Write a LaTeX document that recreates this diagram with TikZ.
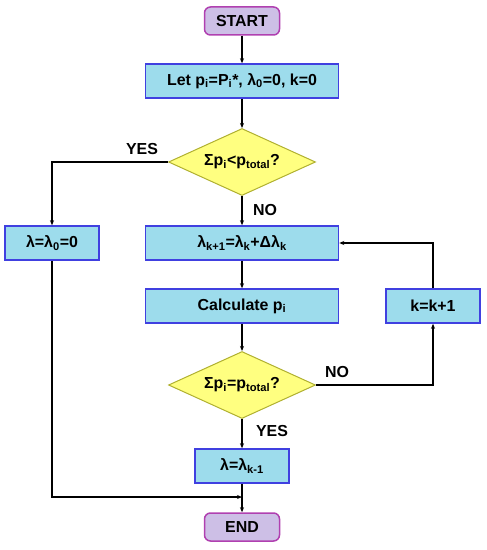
\documentclass[tikz,border=0pt]{standalone}
\usepackage{fontspec}
\setmainfont{Liberation Sans}
\usetikzlibrary{arrows.meta, shapes.geometric, calc}
\definecolor{boxfill}{RGB}{157,220,236}
\definecolor{boxline}{RGB}{64,64,224}
\definecolor{termfill}{RGB}{205,191,230}
\definecolor{termline}{RGB}{176,64,176}
\definecolor{decfill}{RGB}{255,255,128}
\definecolor{decline}{RGB}{176,176,48}
\newcommand{\sbs}[1]{\textsubscript{#1}}

\tikzset{
  procbox/.style={draw=boxline, fill=boxfill, line width=1.5bp, minimum width=193bp, minimum height=34bp, inner sep=2bp},
  smallbox/.style={procbox, minimum width=94bp},
  termbox/.style={draw=termline, fill=termfill, line width=1.5bp, rounded corners=6bp, minimum width=75bp, minimum height=28bp},
  decbox/.style={diamond, aspect=2.2, draw=decline, fill=decfill, line width=1bp, minimum width=147bp, minimum height=67bp, inner sep=0pt},
  flow/.style={line width=1.5bp, -{Stealth[length=5bp,width=4bp]}},
  lbl/.style={font=\fontsize{16}{18}\selectfont\bfseries}
}

\begin{document}
\begin{tikzpicture}[x=1bp, y=-1bp, font=\fontsize{16}{18}\selectfont\bfseries]
  \useasboundingbox (0,0) rectangle (487,550);

  % Nodes
  \node[termbox] (start) at (242,21) {START};
  \node[procbox] (init) at (242,81) {Let p\sbs{i}=P\sbs{i}*, λ\sbs{0}=0, k=0};
  \node[decbox] (check1) at (242,162) {Σp\sbs{i}<p\sbs{total}?};
  \node[smallbox] (lamzero) at (52,243) {λ=λ\sbs{0}=0};
  \node[procbox] (update) at (242,243) {λ\sbs{k+1}=λ\sbs{k}+Δλ\sbs{k}};
  \node[procbox] (calc) at (242,306) {Calculate p\sbs{i}};
  \node[smallbox] (kinc) at (433,306) {k=k+1};
  \node[decbox] (check2) at (242,385) {Σp\sbs{i}=p\sbs{total}?};
  \node[smallbox] (lamprev) at (242,466) {λ=λ\sbs{k-1}};
  \node[termbox] (stop) at (242,527) {END};
  \coordinate (join) at (242,497);

  % Connectors
  \draw[flow] (start) -- (init);
  \draw[flow] (init) -- (check1);
  \draw[flow] (check1.west) -| (lamzero.north);
  \draw[flow] (check1) -- (update);
  \draw[flow] (update) -- (calc);
  \draw[flow] (calc) -- (check2);
  \draw[flow] (check2.east) -| (kinc.south);
  \draw[flow] (kinc.north) |- (update.east);
  \draw[flow] (check2) -- (lamprev);
  \draw[flow] (lamprev) -- (stop);
  \draw[flow] (lamzero.south) |- (join);

  % Labels
  \node[lbl] (yes1) at (142,149) {YES};
  \node[lbl] (no1) at (265,210) {NO};
  \node[lbl] (no2) at (337,372) {NO};
  \node[lbl] (yes2) at (272,431) {YES};
\end{tikzpicture}
\end{document}
